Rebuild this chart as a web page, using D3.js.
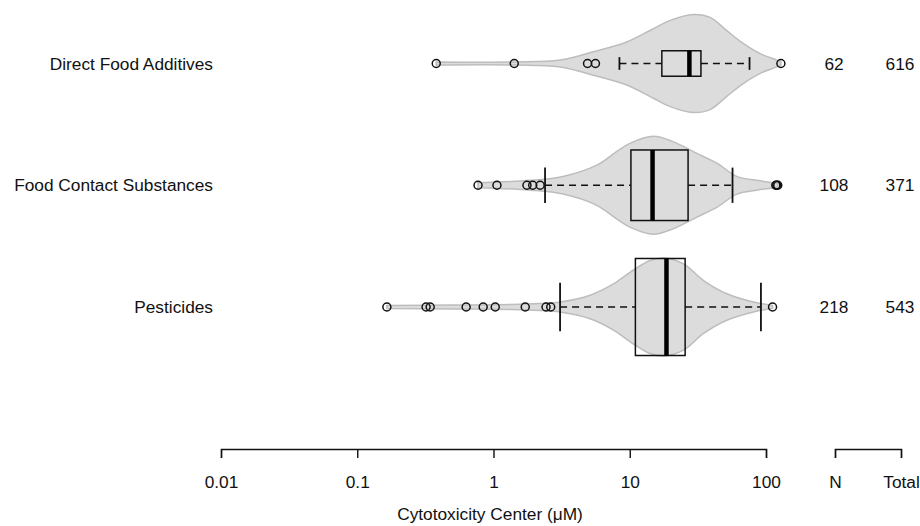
<!DOCTYPE html>
<html>
<head>
<meta charset="utf-8">
<script src="https://cdn.jsdelivr.net/npm/d3@7"></script>
<style>
  body { margin: 0; background: #fff; }
  text { font-family: 'Liberation Sans', Arial, sans-serif; font-size: 17.3px; fill: #111; }
</style>
</head>
<body>
<div id="chart"></div>
<script>
document.addEventListener('DOMContentLoaded', init, false);

var width = 920;
var height = 526;

// data (concentrations in uM)
var categories = ['Direct Food Additives', 'Food Contact Substances', 'Pesticides'];
var nValues = [62, 108, 218];
var totalValues = [616, 371, 543];

// box stats: whisker low, q1, median, q3, whisker high
var boxStats = [
  [8.4, 17.2, 27.4, 33.3, 75.7],
  [2.39, 10.2, 14.7, 26.8, 56.8],
  [3.08, 11.0, 18.6, 25.5, 91.8]
];

var outliers = [
  [0.38, 1.42, 4.9, 5.6, 128.6],
  [0.77, 1.06, 1.76, 1.94, 2.2, 118, 120, 122],
  [0.165, 0.32, 0.343, 0.63, 0.84, 1.03, 1.71, 2.43, 2.63, 111.7]
];

// violin outlines: [value, relative density]
var violins = [
  [[0.38, 0.03], [1.42, 0.03], [3.08, 0.07], [5.4, 0.24], [9.5, 0.44], [14.9, 0.71],
   [19.8, 0.88], [29.2, 1.0], [38.9, 0.94], [51.6, 0.67], [68, 0.41], [90.6, 0.2],
   [120, 0.07], [128.6, 0.03]],
  [[0.77, 0.05], [1.86, 0.1], [3.24, 0.18], [5.73, 0.41], [8.04, 0.69], [10.1, 0.86],
   [14.9, 1.0], [20.8, 0.89], [31.1, 0.65], [43.6, 0.45], [61.1, 0.18], [85.7, 0.1],
   [122, 0.04]],
  [[0.165, 0.03], [0.48, 0.04], [1.32, 0.05], [2.2, 0.07], [3.08, 0.1], [5.12, 0.24],
   [7.59, 0.47], [10.6, 0.75], [14.1, 0.95], [17.7, 1.0], [24.8, 0.88], [34.8, 0.54],
   [51.6, 0.27], [80.9, 0.1], [111.7, 0.03]]
];

var xTicks = [0.01, 0.1, 1, 10, 100];
var countLabels = ['N', 'Total'];

// layout
var violinHalf = 49;
var boxScale = [0.26, 0.72, 0.99];
var axisY = 449;

function init() {

  var svg = d3.select('#chart')
    .append('svg')
      .attr('width', width)
      .attr('height', height);

  var x = d3.scaleLog()
    .domain([0.01, 100])
    .range([221, 766]);

  var y = d3.scalePoint()
    .domain(categories)
    .range([63.5, 307]);

  var cols = d3.scalePoint()
    .domain(countLabels)
    .range([835, 901]);

  drawViolins(svg, x, y);
  drawBoxes(svg, x, y);
  drawOutliers(svg, x, y);
  drawLabels(svg, y, cols);
  drawAxes(svg, x, cols);
}

function drawViolins(svg, x, y) {

  svg.append('g')
      .attr('class', 'violins')
    .selectAll('path')
      .data(violins)
      .enter()
    .append('path')
      .attr('fill', '#dcdcdc')
      .attr('stroke', '#bdbdbd')
      .attr('stroke-width', 1.5)
      .attr('d', function (d, i) {
        var cy = y(categories[i]);
        var area = d3.area()
          .x(function (p) { return x(p[0]); })
          .y0(function (p) { return cy - p[1] * violinHalf; })
          .y1(function (p) { return cy + p[1] * violinHalf; })
          .curve(d3.curveCatmullRom.alpha(0.5));
        return area(d);
      });
}

function drawBoxes(svg, x, y) {

  var g = svg.append('g').attr('class', 'boxes');

  boxStats.forEach(function (s, i) {
    var cy = y(categories[i]);
    var bh = boxScale[i] * violinHalf;
    var cap = bh / 2;

    // dashed whiskers
    [[s[0], s[1]], [s[3], s[4]]].forEach(function (w) {
      g.append('line')
        .attr('x1', x(w[0])).attr('x2', x(w[1]))
        .attr('y1', cy).attr('y2', cy)
        .attr('stroke', '#111')
        .attr('stroke-width', 1.5)
        .attr('stroke-dasharray', '7,5');
    });

    // whisker caps
    [s[0], s[4]].forEach(function (v) {
      g.append('line')
        .attr('x1', x(v)).attr('x2', x(v))
        .attr('y1', cy - cap).attr('y2', cy + cap)
        .attr('stroke', '#111')
        .attr('stroke-width', 1.8);
    });

    g.append('rect')
      .attr('x', x(s[1]))
      .attr('y', cy - bh)
      .attr('width', x(s[3]) - x(s[1]))
      .attr('height', bh * 2)
      .attr('fill', 'none')
      .attr('stroke', '#111')
      .attr('stroke-width', 1.5);

    g.append('line')
      .attr('x1', x(s[2])).attr('x2', x(s[2]))
      .attr('y1', cy - bh).attr('y2', cy + bh)
      .attr('stroke', '#000')
      .attr('stroke-width', 4.5);
  });
}

function drawOutliers(svg, x, y) {

  var g = svg.append('g').attr('class', 'outliers');

  outliers.forEach(function (vals, i) {
    g.selectAll('.o' + i)
      .data(vals)
      .enter()
    .append('circle')
      .attr('cx', function (d) { return x(d); })
      .attr('cy', y(categories[i]))
      .attr('r', 4)
      .attr('fill', 'none')
      .attr('stroke', '#111')
      .attr('stroke-width', 1.5);
  });
}

function drawLabels(svg, y, cols) {

  svg.append('g')
    .selectAll('text')
      .data(categories)
      .enter()
    .append('text')
      .attr('x', 213)
      .attr('y', function (d) { return y(d); })
      .attr('dy', '0.35em')
      .attr('text-anchor', 'end')
      .text(function (d) { return d; });

  [nValues, totalValues].forEach(function (vals, j) {
    svg.append('g')
      .selectAll('text')
        .data(vals)
        .enter()
      .append('text')
        .attr('x', cols(countLabels[j]) - 1)
        .attr('y', function (d, i) { return y(categories[i]); })
        .attr('dy', '0.35em')
        .attr('text-anchor', 'middle')
        .text(function (d) { return d; });
  });
}

function drawAxes(svg, x, cols) {

  var axis = svg.append('g')
    .attr('class', 'axis')
    .attr('transform', 'translate(0,' + axisY + ')')
    .call(d3.axisBottom(x)
      .tickValues(xTicks)
      .tickSizeInner(9)
      .tickSizeOuter(9)
      .tickPadding(18)
      .tickFormat(function (d) { return String(d); }));

  var nAxis = svg.append('g')
    .attr('class', 'axis')
    .attr('transform', 'translate(0,' + axisY + ')')
    .call(d3.axisBottom(cols)
      .tickSizeInner(9)
      .tickSizeOuter(9)
      .tickPadding(18));

  [axis, nAxis].forEach(function (a) {
    a.select('.domain').attr('stroke', '#111').attr('stroke-width', 1.4);
    a.selectAll('.tick line').attr('stroke', '#111').attr('stroke-width', 1.4);
    a.selectAll('.tick text')
      .attr('font-family', null)
      .attr('font-size', null)
      .attr('fill', '#111');
  });

  svg.append('text')
    .attr('x', 490)
    .attr('y', 520)
    .attr('text-anchor', 'middle')
    .text('Cytotoxicity Center (\u03BCM)');
}
</script>
</body>
</html>
